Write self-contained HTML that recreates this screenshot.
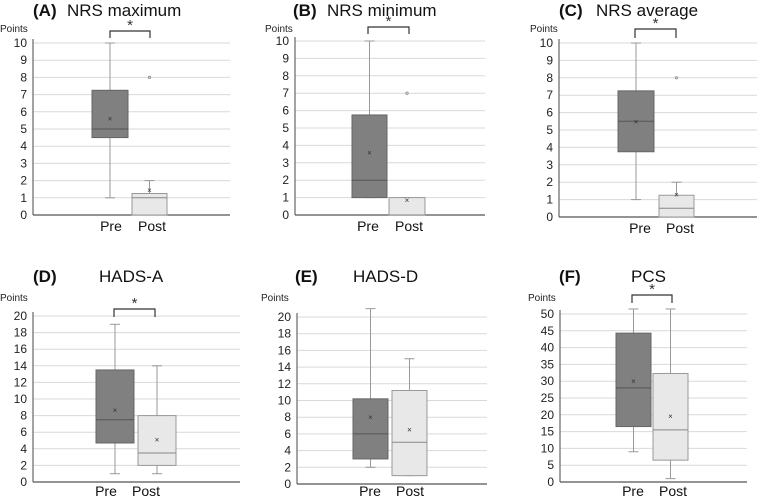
<!DOCTYPE html>
<html><head><meta charset="utf-8"><style>
html,body{margin:0;padding:0;background:#fff;}
svg{display:block;font-family:"Liberation Sans",Arial,sans-serif;}
</style></head><body>
<svg id="fig" width="757" height="499" viewBox="0 0 757 499" xmlns="http://www.w3.org/2000/svg"></svg>
<script>
// ---- data (one small array per series) ----
const categories = ["Pre", "Post"];
// [min, q1, median, q3, max, mean]
const nrsMaxPre = [1, 4.5, 5, 7.25, 10, 5.6];
const nrsMaxPost = [0, 0, 1, 1.25, 2, 1.45];
const nrsMaxPostOutliers = [8];
const nrsMinPre = [1, 1, 2, 5.75, 10, 3.6];
const nrsMinPost = [0, 0, 0, 1, 1, 0.85];
const nrsMinPostOutliers = [7];
const nrsAvgPre = [1, 3.75, 5.5, 7.25, 10, 5.5];
const nrsAvgPost = [0, 0, 0.5, 1.25, 2, 1.3];
const nrsAvgPostOutliers = [8];
const hadsAPre = [1, 4.7, 7.5, 13.5, 19, 8.7];
const hadsAPost = [1, 2, 3.5, 8, 14, 5.1];
const hadsDPre = [2, 3, 6, 10.2, 21, 8];
const hadsDPost = [1, 1, 5, 11.2, 15, 6.5];
const pcsPre = [9, 16.5, 28, 44.3, 51.5, 30];
const pcsPost = [1, 6.5, 15.5, 32.3, 51.5, 19.7];
const ticksNrs = [0,1,2,3,4,5,6,7,8,9,10];
const ticksHads = [0,2,4,6,8,10,12,14,16,18,20];
const ticksPcs = [0,5,10,15,20,25,30,35,40,45,50];

// ---- layout ----
const panels = [
 {id:"a", letter:"(A)", title:"NRS maximum", tx:33, nx:67, ty:16, ax:33, y0:215, yt:43, gEnd:230, ticks:ticksNrs, pre:nrsMaxPre, post:nrsMaxPost, out:nrsMaxPostOutliers, bx:[[92,128],[132,167]], lx:[111,152], ly:16, br:[110,150,31,38], px:0, py:32},
 {id:"b", letter:"(B)", title:"NRS minimum", tx:293, nx:327, ty:16, ax:295, y0:215, yt:41, gEnd:485, ticks:ticksNrs, pre:nrsMinPre, post:nrsMinPost, out:nrsMinPostOutliers, bx:[[352,387],[389,425]], lx:[368,409], ly:16, br:[368,409,27,34], px:265, py:32},
 {id:"c", letter:"(C)", title:"NRS average", tx:559, nx:596, ty:16, ax:559, y0:217, yt:43, gEnd:757, ticks:ticksNrs, pre:nrsAvgPre, post:nrsAvgPost, out:nrsAvgPostOutliers, bx:[[618,654],[659,694]], lx:[640,680], ly:16, br:[635,676,29,38], px:530, py:32},
 {id:"d", letter:"(D)", title:"HADS-A", tx:33, nx:99, ty:282, ax:33, y0:482, yt:316, gEnd:240, ticks:ticksHads, pre:hadsAPre, post:hadsAPost, out:[], bx:[[96,134],[138,176]], lx:[106,146], ly:14, br:[114,155,309,317], px:0, py:301},
 {id:"e", letter:"(E)", title:"HADS-D", tx:295, nx:353, ty:282, ax:297, y0:484, yt:317, gEnd:487, ticks:ticksHads, pre:hadsDPre, post:hadsDPost, out:[], bx:[[353,388],[392,427]], lx:[370,410], ly:12, br:null, px:261, py:301},
 {id:"f", letter:"(F)", title:"PCS", tx:559, nx:631, ty:282, ax:560, y0:482, yt:314, gEnd:747, ticks:ticksPcs, pre:pcsPre, post:pcsPost, out:[], bx:[[616,651],[653,688]], lx:[633,673], ly:14, br:[632,672,295,303], px:528, py:301}
];
const NS="http://www.w3.org/2000/svg";
const svg=document.getElementById("fig");
function mk(tag,attrs,parent,text){const e=document.createElementNS(NS,tag);for(const k in attrs)e.setAttribute(k,attrs[k]);if(text!==undefined)e.textContent=text;(parent||svg).appendChild(e);return e;}

panels.forEach(p=>{
 const g=mk("g",{});
 
 
 const maxT=p.ticks[p.ticks.length-1];
 const y=v=>p.y0-(v/maxT)*(p.y0-p.yt);
 const t1=mk("text",{x:p.tx,y:p.ty,"font-size":"17","font-weight":"bold",fill:"#111"},g,p.letter);
 
 
 const t2=mk("text",{x:p.nx,y:p.ty,"font-size":"17",fill:"#111"},g,p.title);
 
 
 const pl=mk("text",{x:p.px,y:p.py,"font-size":"10",fill:"#222"},g,"Points");
 
 
 p.ticks.forEach(t=>{
  const yy=y(t);
  if(t>0){const gl=mk("line",{x1:p.ax,x2:p.gEnd,y1:yy,y2:yy,stroke:"#d9d9d9","stroke-width":1},g);
   
   }
  const tl=mk("text",{x:p.ax-6,y:yy+4,"font-size":"12","text-anchor":"end",fill:"#222"},g,String(t));
  
  
 });
 const ya=mk("line",{x1:p.ax,x2:p.ax,y1:p.yt-4,y2:p.y0,stroke:"#666","stroke-width":1.2},g);
 
 
 const xa=mk("line",{x1:p.ax,x2:p.gEnd,y1:p.y0,y2:p.y0,stroke:"#555","stroke-width":1.2},g);
 
 
 [p.pre,p.post].forEach((d,i)=>{
  const [x1,x2]=p.bx[i]; const cx=(x1+x2)/2;
  const fill=i===0?"#808080":"#e8e8e8", stroke=i===0?"#666":"#999";
  const w1=mk("line",{x1:cx,x2:cx,y1:y(d[4]),y2:y(d[3]),stroke:"#999","stroke-width":1},g);
  
  
  const w2=mk("line",{x1:cx,x2:cx,y1:y(d[1]),y2:y(d[0]),stroke:"#999","stroke-width":1},g);
  
  
  [d[0],d[4]].forEach(v=>{const c=mk("line",{x1:cx-5,x2:cx+5,y1:y(v),y2:y(v),stroke:"#999","stroke-width":1},g);
   
   });
  const b=mk("rect",{x:x1,y:y(d[3]),width:x2-x1,height:Math.max(0.5,y(d[1])-y(d[3])),fill:fill,stroke:stroke,"stroke-width":1},g);
  
  
  const m=mk("line",{x1:x1,x2:x2,y1:y(d[2]),y2:y(d[2]),stroke:i===0?"#555":"#888","stroke-width":1},g);
  
  
  const mn=mk("text",{x:cx,y:y(d[5])+3,"font-size":"8","text-anchor":"middle",fill:"#333"},g,"×");
  
  
  const lab=mk("text",{x:p.lx[i],y:p.y0+p.ly,"font-size":"14","text-anchor":"middle",fill:"#111"},g,categories[i]);
  
  
 });
 p.out.forEach(v=>{const cx=(p.bx[1][0]+p.bx[1][1])/2;
  const o=mk("circle",{cx:cx,cy:y(v),r:1.2,fill:"none",stroke:"#888","stroke-width":0.8},g);
  
  });
 if(p.br){const [a,b,t,bt]=p.br;
  const br=mk("path",{d:`M${a},${bt}V${t}H${b}V${bt}`,fill:"none",stroke:"#333","stroke-width":1.2},g);
  
  
  const st=mk("text",{x:(a+b)/2,y:t-1,"font-size":"15","text-anchor":"middle",fill:"#333"},g,"*");
  
  }
});
</script>
</body></html>
